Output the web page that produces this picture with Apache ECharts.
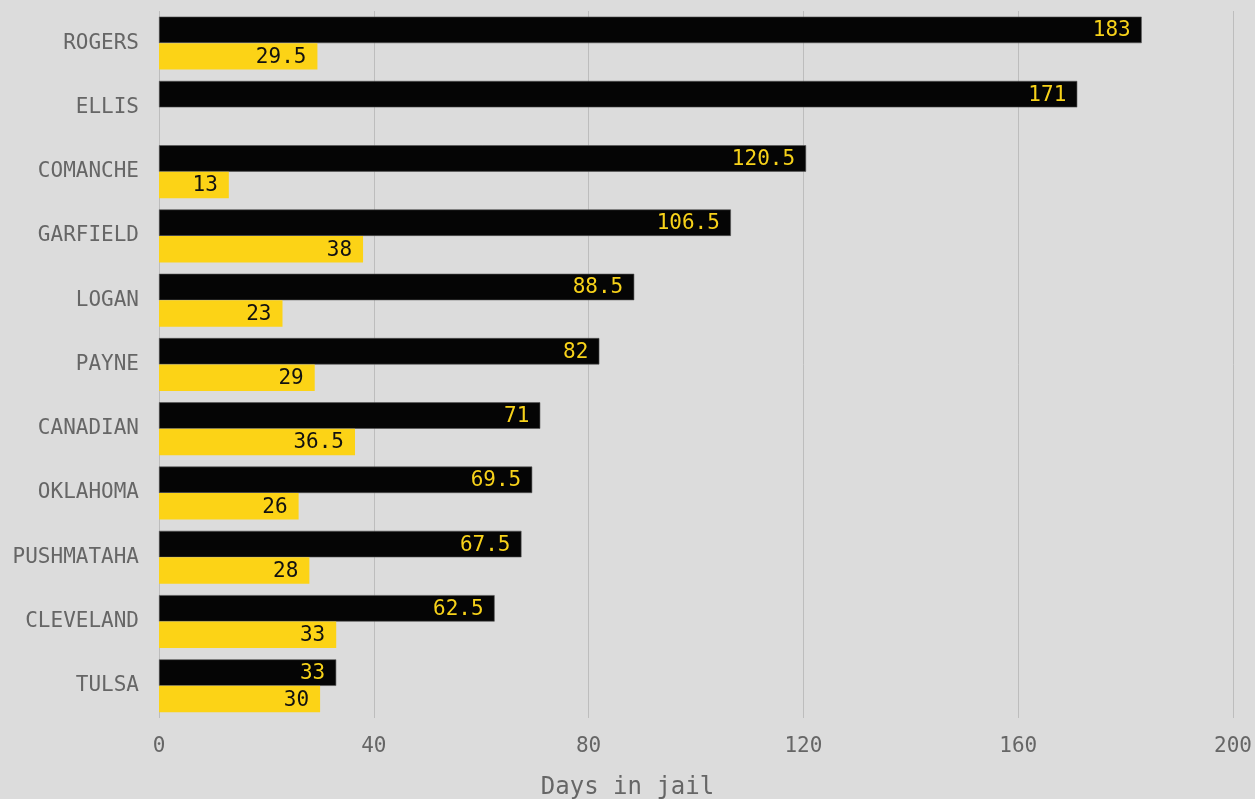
<!DOCTYPE html>
<html><head><meta charset="utf-8">
<script src="https://cdn.jsdelivr.net/npm/echarts@6/dist/echarts.min.js"></script>
<style>html,body{margin:0;padding:0;background:#dcdcdc;}#c{width:1255px;height:799px;}</style>
</head><body><div id="c"></div>
<script>
const categories = ['ROGERS','ELLIS','COMANCHE','GARFIELD','LOGAN','PAYNE','CANADIAN','OKLAHOMA','PUSHMATAHA','CLEVELAND','TULSA'];
const blackValues = [183,171,120.5,106.5,88.5,82,71,69.5,67.5,62.5,33];
const yellowValues = [29.5,null,13,38,23,29,36.5,26,28,33,30];
const xTicks = [0,40,80,120,160,200];
const xAxisTitle = 'Days in jail';
const FONT = 'DejaVu Sans Mono';
const chart = echarts.init(document.getElementById('c'), null, {renderer:'canvas'});
chart.setOption({
  backgroundColor:'#dcdcdc',
  animation:false,
  title:{text:xAxisTitle,left:'center',top:776,padding:0,
    textStyle:{fontFamily:FONT,fontSize:24,fontWeight:'normal',color:'#666'}},
  grid:{left:159,right:22,top:11,bottom:81,containLabel:false},
  xAxis:{type:'value',min:xTicks[0],max:xTicks[xTicks.length-1],interval:40,
    axisLine:{show:false},axisTick:{show:false},
    axisLabel:{fontFamily:FONT,fontSize:21,color:'#666',margin:18},
    splitLine:{lineStyle:{color:'#bdbdbd',width:1}}},
  yAxis:{type:'category',data:categories,inverse:true,
    axisLine:{show:false},axisTick:{show:false},
    axisLabel:{fontFamily:FONT,fontSize:21,color:'#666',margin:20}},
  series:[
    {type:'bar',data:blackValues,barGap:'0%',barCategoryGap:'17.6%',
     itemStyle:{color:'#050505',borderColor:'#555',borderWidth:0.6},
     label:{show:true,position:'insideRight',distance:11,offset:[0,1],fontFamily:FONT,fontSize:21,color:'#f7d21a'}},
    {type:'bar',data:yellowValues,barGap:'0%',barCategoryGap:'17.6%',
     itemStyle:{color:'#fcd316'},
     label:{show:true,position:'insideRight',distance:11,offset:[0,1],fontFamily:FONT,fontSize:21,color:'#111'}}
  ]
});
</script></body></html>
